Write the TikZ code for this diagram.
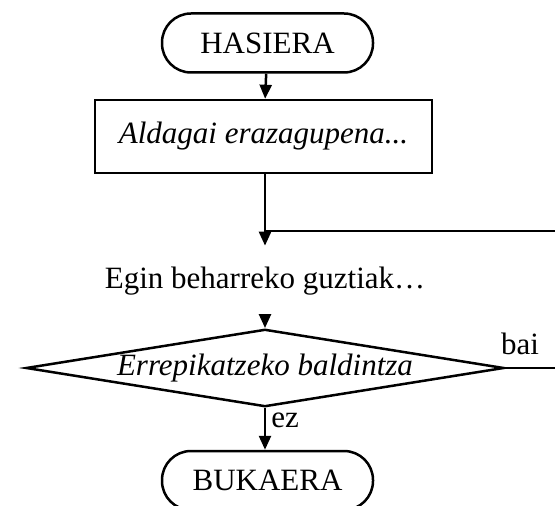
\documentclass[tikz,border=0pt]{standalone}
\usepackage{fontspec}
\setmainfont{Liberation Serif}
\usetikzlibrary{arrows.meta, shapes.geometric}

\begin{document}
\begin{tikzpicture}
[x=0.5pt, y=-0.5pt, line width=1.25pt,
font=\fontsize{15.5}{18}\selectfont,
terminal/.style={draw, rounded corners=14.5pt, minimum width=105.5pt, minimum height=29.5pt, inner sep=0pt},
procbox/.style={draw, minimum width=168.5pt, minimum height=36.5pt, inner sep=0pt, font=\fontsize{15.5}{18}\selectfont\itshape},
decision/.style={draw, diamond, shape aspect=6, minimum width=239pt, minimum height=38pt, inner sep=0pt, font=\fontsize{15.5}{18}\selectfont\itshape},
plain/.style={inner sep=0pt}
]

\clip (0,0) rectangle (555,506);
\useasboundingbox (0,0) rectangle (555,506);

\path
coordinate (c1) at (267.5,43)
coordinate (c2) at (263.5,136.5)
coordinate (c3) at (265,281)
coordinate (c4) at (265,368)
coordinate (c5) at (267.5,480.5)
coordinate (join) at (265,231)
coordinate (loopA) at (560,231)
coordinate (loopB) at (560,368)
;

\node[terminal] (hasiera) at (c1) {HASIERA};
\node[procbox] (aldagai) at (c2) {Aldagai erazagupena...};
\node[plain] (egin) at (c3) {Egin beharreko guztiak…};
\node[decision] (baldintza) at (c4) {Errepikatzeko baldintza};
\node[terminal] (bukaera) at (c5) {BUKAERA};

% draw flow
\begin{scope}[-{Triangle[length=7pt, width=6pt]}]
\draw (hasiera) -- (aldagai) ;
\draw (aldagai.south -| join) -- ([yshift=10pt]egin.north) ;
\draw ([yshift=-9pt]egin.south) -- (baldintza.north) ;
\draw (baldintza.south) -- node[plain, right=2.5pt, pos=0.3] {ez} (baldintza.south |- bukaera.north) ;
\end{scope}

\draw (join) -- (loopA) ;
\draw (baldintza.east) -- node[plain, above=6pt, pos=0.27] {bai} (loopB) ;

\end{tikzpicture}
\end{document}
